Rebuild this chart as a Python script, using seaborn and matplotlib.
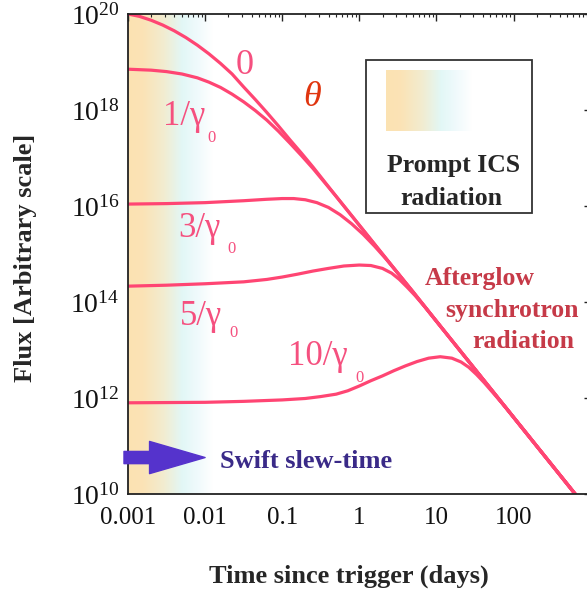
import numpy as np
import pandas as pd
import matplotlib
matplotlib.use("Agg")
import matplotlib.pyplot as plt
import seaborn as sns
from matplotlib.colors import LinearSegmentedColormap
from matplotlib.ticker import LogLocator, NullFormatter, FixedLocator, FuncFormatter
from matplotlib.patches import Rectangle

# ---------------- data (log10 values) ----------------
curve_names = ["0", "1/γ0", "3/γ0", "5/γ0", "10/γ0"]

logt_0 = [-3.0, -2.85, -2.7, -2.55, -2.4, -2.25, -2.1, -1.95, -1.8, -1.65, -1.5, -1.35, -1.2, -1.05, -0.9,
          -0.75, -0.6, -0.3, 0.0, 0.5, 1.0, 1.5, 2.0, 2.5, 3.0]
logF_0 = [20.0, 19.95, 19.87, 19.77, 19.65, 19.51, 19.35, 19.17, 18.97, 18.75, 18.48, 18.22, 17.95, 17.67, 17.38,
          17.1, 16.81, 16.2, 15.6, 14.6, 13.6, 12.6, 11.6, 10.6, 9.6]

logt_1 = [-3.0, -2.7, -2.5, -2.3, -2.1, -1.95, -1.8, -1.65, -1.5, -1.35, -1.2, -1.05, -0.9, -0.75, -0.6, -0.45,
          -0.3, 0.0, 0.5, 1.0, 1.5, 2.0, 2.5, 3.0]
logF_1 = [18.85, 18.83, 18.8, 18.75, 18.67, 18.58, 18.47, 18.33, 18.17, 17.99, 17.79, 17.56, 17.31, 17.05, 16.78, 16.49,
          16.2, 15.6, 14.6, 13.6, 12.6, 11.6, 10.6, 9.6]

logt_3 = [-3.0, -2.5, -2.0, -1.5, -1.2, -1.0, -0.85, -0.7, -0.55, -0.4, -0.25, -0.1, 0.05, 0.2, 0.35, 0.5, 0.7,
          1.0, 1.5, 2.0, 2.5, 3.0]
logF_3 = [16.04, 16.05, 16.07, 16.11, 16.14, 16.155, 16.155, 16.13, 16.07, 15.97, 15.82, 15.63, 15.41, 15.16, 14.89,
          14.6, 14.21, 13.6, 12.6, 11.6, 10.6, 9.6]

logt_5 = [-3.0, -2.5, -2.0, -1.5, -1.2, -1.0, -0.8, -0.6, -0.4, -0.2, 0.0, 0.15, 0.3, 0.42, 0.52, 0.62, 0.72, 0.85,
          1.0, 1.5, 2.0, 2.5, 3.0]
logF_5 = [14.33, 14.35, 14.38, 14.42, 14.47, 14.52, 14.58, 14.645, 14.7, 14.75, 14.77, 14.76, 14.7, 14.6, 14.47,
          14.31, 14.14, 13.9, 13.6, 12.6, 11.6, 10.6, 9.6]

logt_10 = [-3.0, -2.0, -1.5, -1.0, -0.7, -0.5, -0.3, -0.15, 0.0, 0.15, 0.3, 0.45, 0.6, 0.75, 0.9, 1.05, 1.2, 1.32,
           1.42, 1.52, 1.62, 1.75, 1.9, 2.0, 2.5, 3.0]
logF_10 = [11.9, 11.91, 11.93, 11.96, 11.99, 12.03, 12.08, 12.15, 12.25, 12.36, 12.46, 12.57, 12.67, 12.76, 12.83,
           12.86, 12.83, 12.75, 12.64, 12.49, 12.32, 12.08, 11.8, 11.6, 10.6, 9.6]

x_ticks = [0.001, 0.01, 0.1, 1, 10, 100]
x_tick_labels = ["0.001", "0.01", "0.1", "1", "10", "100"]
y_ticks = [1e10, 1e12, 1e14, 1e16, 1e18, 1e20]

swift_slew_time = 0.01      # days (arrow tip)
swift_arrow_start = 8.87e-4
swift_arrow_level = 5.75e10

# ---------------- style ----------------
sns.set_style("white")
plt.rcParams["font.family"] = ["Liberation Serif", "DejaVu Serif"]
plt.rcParams["mathtext.fontset"] = "custom"
plt.rcParams["mathtext.rm"] = "Liberation Serif"

curve_color = "#ff4573"
label_color = "#f5507f"

rows = []
for name, lt, lf in zip(curve_names,
                        [logt_0, logt_1, logt_3, logt_5, logt_10],
                        [logF_0, logF_1, logF_3, logF_5, logF_10]):
    for a, b in zip(lt, lf):
        rows.append({"curve": name, "t": 10.0 ** a, "F": 10.0 ** b})
df = pd.DataFrame(rows)

W, H = 587, 596
fig = plt.figure(figsize=(W / 100, H / 100), dpi=100)
fig.patch.set_facecolor("white")

AX_L, AX_R, AX_T, AX_B = 128.0, 590.6, 14.0, 494.0
ax_rect = [AX_L / W, 1 - AX_B / H, (AX_R - AX_L) / W, (AX_B - AX_T) / H]

# gradient colormap (prompt ICS radiation)
cmap = LinearSegmentedColormap.from_list("ics", [
    (0.00, (252/255, 226/255, 178/255)),
    (0.18, (251/255, 227/255, 182/255)),
    (0.42, (242/255, 236/255, 208/255)),
    (0.64, (226/255, 247/255, 246/255)),
    (0.82, (240/255, 250/255, 252/255)),
    (1.00, (1.0, 1.0, 1.0)),
])
grad = np.linspace(0, 1, 256)[np.newaxis, :]

GRAD_W = 85.0
bg_ax = fig.add_axes([AX_L / W, 1 - AX_B / H, GRAD_W / W, (AX_B - AX_T) / H], zorder=0)
bg_ax.imshow(grad, aspect="auto", cmap=cmap, interpolation="bicubic")
bg_ax.axis("off")

ax = fig.add_axes(ax_rect, zorder=1)
ax.patch.set_alpha(0)

sns.lineplot(data=df, x="t", y="F", hue="curve", palette=[curve_color] * 5,
             estimator=None, sort=False, legend=False, linewidth=2.3, ax=ax)
for ln in ax.lines:
    ln.set_solid_capstyle("butt")
    ln.set_solid_joinstyle("round")

ax.set_xscale("log")
ax.set_yscale("log")
ax.set_xlim(1e-3, 1e3)
ax.set_ylim(1e10, 1e20)

ax.set_xticks(x_ticks)
ax.set_xticklabels(x_tick_labels)
ax.xaxis.set_minor_locator(LogLocator(base=10, subs=np.arange(2, 10), numticks=100))
ax.xaxis.set_minor_formatter(NullFormatter())

ax.yaxis.set_major_locator(FixedLocator(y_ticks))
ax.yaxis.set_major_formatter(FuncFormatter(lambda v, p: r"$\mathregular{10^{%d}}$" % int(round(np.log10(v)))))
ax.yaxis.set_minor_locator(LogLocator(base=10, subs=np.arange(1, 10), numticks=100))
ax.yaxis.set_minor_formatter(NullFormatter())

ax.tick_params(which="both", direction="in", top=True, right=True, color="#222222")
ax.tick_params(which="major", length=5, width=1.0)
ax.tick_params(which="minor", length=2.5, width=0.8)
ax.tick_params(axis="x", which="major", labelsize=18, pad=9, labelcolor="#111111")
ax.tick_params(axis="y", which="major", labelsize=20, pad=6, labelcolor="#111111")
for s in ax.spines.values():
    s.set_linewidth(1.3)
    s.set_color("#222222")

ax.set_xlabel("Time since trigger (days)", fontsize=19, fontweight="bold")
ax.set_ylabel("Flux [Arbitrary scale]", fontsize=19, fontweight="bold")


def axf(px, py):
    return ((px - AX_L) / (AX_R - AX_L), (AX_B - py) / (AX_B - AX_T))


ax.xaxis.set_label_coords(*axf(348.5, 576))
ax.xaxis.label.set_va("center")
ax.yaxis.set_label_coords(*axf(26, 258))
ax.yaxis.label.set_va("center")
ax.yaxis.label.set_ha("center")

# curve labels
ax.text(*axf(245, 66), "0", transform=ax.transAxes, fontsize=26, color=label_color, ha="center", va="center")
ax.text(*axf(312, 98), "θ", transform=ax.transAxes, fontsize=26, color="#e0350f", style="italic", ha="center", va="center")

for (lx, ly, main, sx, sy) in [(163, 125, "1/γ", 211.5, 137.5),
                               (178, 237, "3/γ", 232, 249),
                               (180, 325, "5/γ", 233, 333),
                               (288, 365, "10/γ", 360, 378)]:
    ax.text(*axf(lx, ly), main, transform=ax.transAxes, fontsize=25, color=label_color, ha="left", va="baseline")
    ax.text(*axf(sx, sy), "0", transform=ax.transAxes, fontsize=12, color=label_color, ha="center", va="center")

# afterglow text
ag_color = "#c63a48"
for (cx, cy, s) in [(480, 278, "Afterglow"), (512, 310, "synchrotron"), (523, 342, "radiation")]:
    ax.text(*axf(cx, cy), s, transform=ax.transAxes, fontsize=18.5, fontweight="bold", color=ag_color,
            ha="center", va="center", clip_on=False)

# Swift arrow
ax.annotate("", xy=(swift_slew_time, swift_arrow_level), xytext=(swift_arrow_start, swift_arrow_level),
            arrowprops=dict(arrowstyle="simple,head_length=1.0,head_width=0.58,tail_width=0.22",
                            mutation_scale=40, color="#5533cc", shrinkA=0, shrinkB=0),
            annotation_clip=False)
ax.text(*axf(220, 468), "Swift slew-time", transform=ax.transAxes, fontsize=19, fontweight="bold",
        color="#3a2a88", ha="left", va="baseline")

# legend box for prompt ICS radiation
box = Rectangle((366 / W, 1 - 213 / H), (532 - 366) / W, (213 - 60) / H, transform=fig.transFigure,
                facecolor="white", edgecolor="#333333", linewidth=1.3, zorder=2)
fig.patches.append(box)
leg_ax = fig.add_axes([386 / W, 1 - 131 / H, (472 - 386) / W, (131 - 70) / H], zorder=3)
leg_ax.imshow(grad, aspect="auto", cmap=cmap, interpolation="bicubic")
leg_ax.axis("off")
fig.text(454 / W, 1 - 172 / H, "Prompt ICS", fontsize=18.5, fontweight="bold", ha="center", va="baseline", zorder=4)
fig.text(451 / W, 1 - 205 / H, "radiation", fontsize=18.5, fontweight="bold", ha="center", va="baseline", zorder=4)

fig.savefig("out.png", dpi=100)
